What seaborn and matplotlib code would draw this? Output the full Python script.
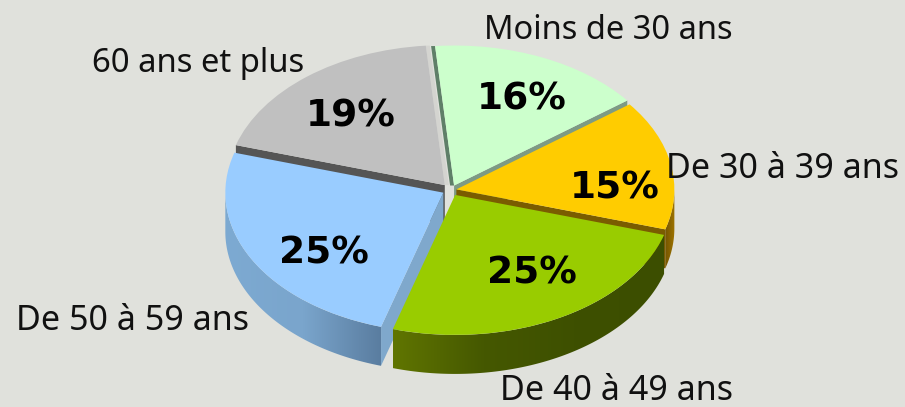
import numpy as np
import matplotlib
matplotlib.use('Agg')
import matplotlib.pyplot as plt
from matplotlib.patches import Polygon
import seaborn as sns

# values, clockwise from the top
groups = ['Moins de 30 ans', 'De 30 à 39 ans', 'De 40 à 49 ans', 'De 50 à 59 ans', '60 ans et plus']
shares = [16, 15, 25, 25, 19]

top_colors = ['#CCFFCC', '#FFCC00', '#99CC00', '#99CCFF', '#C0C0C0']
explode = [0.035, 0.025, 0.04, 0.04, 0.045]

W, H = 905, 407
BG = '#E0E1DC'
CX, CY, RX, RY = 451, 190, 218, 140
DEPTH = 39 / RY

sns.set_theme(style='white', rc={'figure.facecolor': BG, 'axes.facecolor': BG})


def to_data(px, py):
    return (px - CX) / RX, (CY - py) / RY


def corner(wedge, angle):
    a = np.deg2rad(angle)
    return wedge.center[0] + wedge.r * np.cos(a), wedge.center[1] + wedge.r * np.sin(a)


def radial_face(ax, wedge, angle, color, shift, z):
    x0, y0 = wedge.center
    x1, y1 = corner(wedge, angle)
    sx, sy = shift
    pts = [(x0, y0), (x1, y1), (x1 + sx, y1 + sy), (x0 + sx, y0 + sy)]
    ax.add_patch(Polygon(pts, closed=True, fc=color, ec='none', zorder=z))


def rim(ax, wedge, colors, z):
    # outer wall of a slice, only the part facing the viewer, with a left to right gradient
    t = np.deg2rad(np.linspace(wedge.theta1, wedge.theta2, 200))
    t = t[np.sin(t) <= 0]
    x = wedge.center[0] + wedge.r * np.cos(t)
    y = wedge.center[1] + wedge.r * np.sin(t)
    pts = np.vstack([np.column_stack([x, y]), np.column_stack([x, y - DEPTH])[::-1]])
    poly = Polygon(pts, closed=True, fc='none', ec='none', transform=ax.transData)
    ax.add_patch(poly)
    cmap = sns.blend_palette(colors, as_cmap=True)
    im = ax.imshow(np.linspace(0, 1, 256).reshape(1, -1), cmap=cmap, aspect='auto', zorder=z,
                   extent=(x.min(), x.max(), (y - DEPTH).min(), y.max()))
    im.set_clip_path(poly)


fig = plt.figure(figsize=(W / 100, H / 100), dpi=100, facecolor=BG)
ax = fig.add_axes([0, 0, 1, 1])

wedges, labels, pcts = ax.pie(shares, labels=groups, explode=explode, colors=top_colors,
                              startangle=95, counterclock=False, autopct='%d%%',
                              wedgeprops={'linewidth': 0})
light, yellow, green, blue, grey = wedges

px = 1 / RX
# back slices
radial_face(ax, grey, grey.theta1, '#D4D4D0', (4 * px, 0), 1)
radial_face(ax, grey, grey.theta2, '#555555', (0, -DEPTH), 1)
radial_face(ax, light, light.theta2, '#5F7F68', (-4 * px, 0), 1)
radial_face(ax, light, light.theta1, '#7D9B84', (0, -DEPTH), 1)
grey.set_zorder(2)
light.set_zorder(2)
# yellow
radial_face(ax, yellow, yellow.theta1, '#7A5C00', (0, -DEPTH), 3)
rim(ax, yellow, ['#735500', '#A07400'], 3)
yellow.set_zorder(4)
# blue
rim(ax, blue, ['#7DAAD2', '#7AA5CC', '#5A7DA0'], 5)
radial_face(ax, blue, blue.theta2, '#7FA8CC', (0, -DEPTH), 5)
blue.set_zorder(6)
# green
rim(ax, green, ['#607500', '#455800', '#3E5000', '#3C4E00'], 7)
green.set_zorder(8)

label_pos = [(608, 30), (782, 169), (616, 391), (132, 321), (198, 63)]
label_size = [23.5, 24.5, 24.5, 24.5, 23.7]
pct_pos = [(522, 99), (615, 188), (532, 274), (324, 253), (351, 116)]
for t, p, s in zip(labels, label_pos, label_size):
    t.set_position(to_data(*p))
    t.set(ha='center', va='center', fontsize=s, family='Noto Sans', color='#111111', zorder=10)
for t, p in zip(pcts, pct_pos):
    t.set_position(to_data(*p))
    t.set(ha='center', va='center', fontsize=27, fontweight='bold', family='DejaVu Sans',
          color='black', zorder=10)

ax.set_aspect('auto')
ax.set_xlim(to_data(0, 0)[0], to_data(W, 0)[0])
ax.set_ylim(to_data(0, H)[1], to_data(0, 0)[1])
ax.axis('off')

fig.savefig('out.png', dpi=100, facecolor=BG)
